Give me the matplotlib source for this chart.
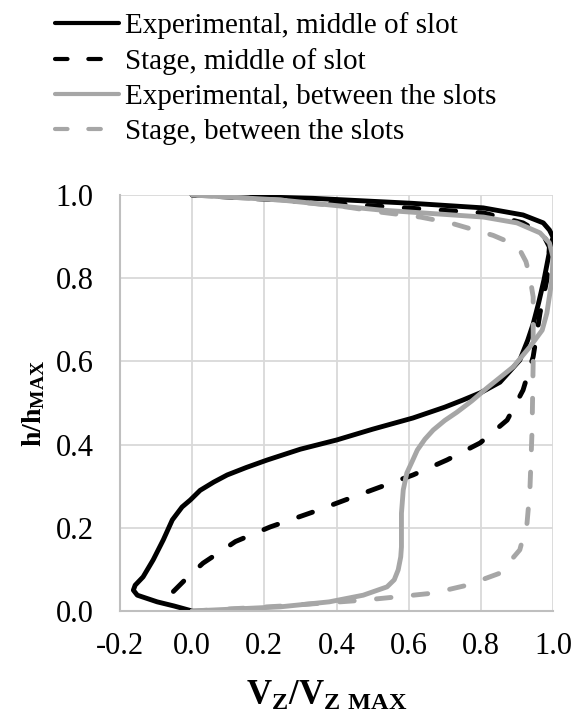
import numpy             as np
import matplotlib
matplotlib.use( 'Agg' )
import matplotlib.pyplot as plt


plt.rcParams['font.family'] = ['Liberation Serif', 'DejaVu Serif']
plt.rcParams['mathtext.fontset'] = 'custom'
plt.rcParams['mathtext.rm'] = 'Liberation Serif'
plt.rcParams['mathtext.bf'] = 'Liberation Serif:bold'
plt.rcParams['axes.unicode_minus'] = False


# Experimental, middle of slot  (V/Vmax, h/hmax)
exp_mid_v = [ 0.0, -0.050, -0.097, -0.152, -0.163, -0.158, -0.136, -0.108, -0.080, -0.055, -0.028, -0.005,
              0.022, 0.060, 0.097, 0.150, 0.208, 0.300, 0.400, 0.500, 0.612, 0.700, 0.750, 0.800, 0.853,
              0.908, 0.930, 0.945, 0.960, 0.975, 0.990, 1.0, 0.990, 0.973, 0.917, 0.807, 0.610, 0.335, 0.0 ]
exp_mid_h = [ 0.0, 0.012, 0.022, 0.038, 0.050, 0.062, 0.082, 0.123, 0.171, 0.219, 0.250, 0.267,
              0.290, 0.310, 0.327, 0.345, 0.363, 0.389, 0.411, 0.437, 0.464, 0.490, 0.507, 0.525, 0.550,
              0.603, 0.651, 0.690, 0.740, 0.796, 0.863, 0.899, 0.916, 0.933, 0.952, 0.969, 0.980, 0.992, 1.0 ]

# Stage, middle of slot
stg_mid_v = [ -0.052, -0.014, 0.030, 0.120, 0.216, 0.335, 0.474, 0.612, 0.706, 0.798, 0.873, 0.917,
              0.945, 0.964, 0.983, 0.990, 0.973, 0.917, 0.807, 0.520, 0.200, 0.0 ]
stg_mid_h = [ 0.047, 0.080, 0.115, 0.167, 0.202, 0.238, 0.283, 0.327, 0.363, 0.404, 0.459, 0.531,
              0.611, 0.716, 0.796, 0.875, 0.904, 0.933, 0.957, 0.973, 0.990, 1.0 ]

# Experimental, between the slots
exp_btw_v = [ 0.0, 0.244, 0.380, 0.474, 0.540, 0.560, 0.571, 0.578, 0.580, 0.580, 0.585, 0.595, 0.610,
              0.624, 0.645, 0.668, 0.700, 0.734, 0.775, 0.817, 0.890, 0.936, 0.970, 0.983, 0.997, 1.0,
              0.990, 0.964, 0.900, 0.807, 0.520, 0.244, 0.0 ]
exp_btw_h = [ 0.0, 0.010, 0.022, 0.038, 0.058, 0.075, 0.099, 0.130, 0.154, 0.235, 0.291, 0.332, 0.360,
              0.387, 0.413, 0.435, 0.458, 0.478, 0.505, 0.536, 0.587, 0.635, 0.675, 0.716, 0.796, 0.851,
              0.885, 0.909, 0.933, 0.947, 0.964, 0.988, 1.0 ]

# Stage, between the slots
stg_btw_v = [ 0.0, 0.250, 0.474, 0.568, 0.668, 0.762, 0.853, 0.908, 0.928, 0.936, 0.942, 0.945, 0.945,
              0.936, 0.925, 0.908, 0.880, 0.834, 0.715, 0.632, 0.520, 0.430, 0.244, 0.0 ]
stg_btw_h = [ 0.0, 0.012, 0.026, 0.034, 0.043, 0.062, 0.091, 0.147, 0.211, 0.291, 0.435, 0.596, 0.755,
              0.803, 0.840, 0.868, 0.886, 0.903, 0.933, 0.947, 0.959, 0.971, 0.988, 1.0 ]

labels = [ 'Experimental, middle of slot', 'Stage, middle of slot',
           'Experimental, between the slots', 'Stage, between the slots' ]

xticks = [ -0.2, 0.0, 0.2, 0.4, 0.6, 0.8, 1.0 ]
yticks = [ 0.0, 0.2, 0.4, 0.6, 0.8, 1.0 ]


gray = '#a6a6a6'
lw   = 3.5
dash = ( 3.0, 4.6 )

fig = plt.figure( figsize=(5.76,7.15), dpi=100 )
ax  = fig.add_axes( [ 120/576, 1-611/715, (553-120)/576, (611-195)/715 ] )

l1, = ax.plot( exp_mid_v, exp_mid_h, color='black', lw=lw, solid_joinstyle='round', solid_capstyle='round' )
l2, = ax.plot( stg_mid_v, stg_mid_h, color='black', lw=lw, dashes=dash, dash_capstyle='round' )
l3, = ax.plot( exp_btw_v, exp_btw_h, color=gray, lw=lw, solid_joinstyle='round', solid_capstyle='round' )
l4, = ax.plot( stg_btw_v, stg_btw_h, color=gray, lw=lw, dashes=dash, dash_capstyle='round' )

ax.set_xlim( -0.2, 1.0 )
ax.set_ylim( 0.0, 1.0 )
ax.set_xticks( xticks )
ax.set_yticks( yticks )
ax.set_xticklabels( [ '%.1f' % t for t in xticks ] )
ax.set_yticklabels( [ '%.1f' % t for t in yticks ] )
ax.tick_params( length=0, labelsize=22 )
ax.tick_params( axis='x', pad=15 )
ax.tick_params( axis='y', pad=19 )

ax.grid( True, color='#d9d9d9', lw=1.3 )
ax.set_axisbelow( True )
for s in [ 'top', 'right' ]:
    ax.spines[s].set_visible( False )
for s in [ 'left', 'bottom' ]:
    ax.spines[s].set_color( '#bfbfbf' )
    ax.spines[s].set_linewidth( 1.5 )

ax.set_xlabel( r'$\mathbf{V_Z/V_{Z\ MAX}}$', fontsize=25 )
ax.xaxis.set_label_coords( 0.478, -0.165 )
ax.set_ylabel( r'$\mathbf{h/h_{MAX}}$', fontsize=20, labelpad=6 )

leg = fig.legend( [ l1, l2, l3, l4 ], labels, loc='upper left', bbox_to_anchor=( 40/576, 1.003 ),
                  frameon=False, fontsize=21, handlelength=2.2, handletextpad=0.2,
                  labelspacing=0.3, borderaxespad=0.1 )
for i, h in enumerate( leg.get_lines() ):
    h.set_linewidth( 3.0 )
    if i in ( 1, 3 ):
        h.set_dashes( ( 3.0, 5.0 ) )

fig.savefig( 'out.png', dpi=100 )
